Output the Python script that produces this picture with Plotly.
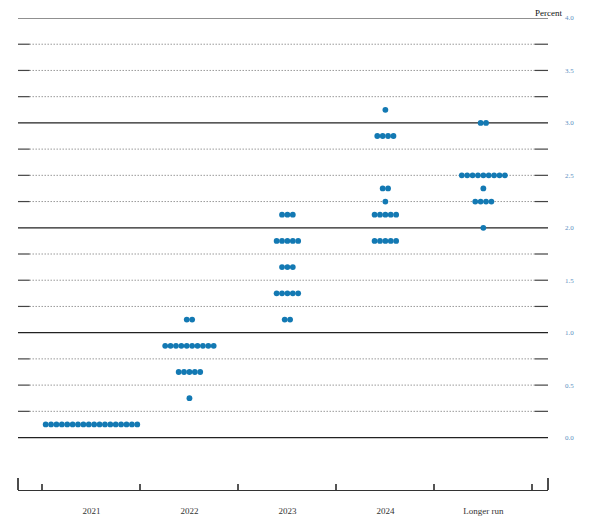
import plotly.graph_objects as go

categories = ["2021", "2022", "2023", "2024", "Longer run"]

# each list: (rate level, number of participants)
dots_2021 = [(0.125, 18)]
dots_2022 = [(0.375, 1), (0.625, 5), (0.875, 10), (1.125, 2)]
dots_2023 = [(1.125, 2), (1.375, 5), (1.625, 3), (1.875, 5), (2.125, 3)]
dots_2024 = [(1.875, 5), (2.125, 5), (2.25, 1), (2.375, 2), (2.875, 4), (3.125, 1)]
dots_longer = [(2.0, 1), (2.25, 4), (2.375, 1), (2.5, 9), (3.0, 2)]

all_dots = [dots_2021, dots_2022, dots_2023, dots_2024, dots_longer]

DOT_COLOR = "#1379b3"
LABEL_BLUE = "#5a8fc2"
SPACING = 0.055

fig = go.Figure()

xs, ys = [], []
for i, groups in enumerate(all_dots):
    for level, n in groups:
        for k in range(n):
            xs.append(i + (k - (n - 1) / 2) * SPACING)
            ys.append(level)

fig.add_trace(go.Scatter(
    x=xs, y=ys, mode="markers",
    marker=dict(color=DOT_COLOR, size=5.8, line=dict(width=0)),
    hoverinfo="y", showlegend=False,
))

# horizontal lines every 0.25: solid at integers, dotted in between,
# with short solid stubs at both ends
shapes = []
for j in range(17):
    lvl = j * 0.25
    if j % 4 == 0:
        shapes.append(dict(type="line", xref="paper", yref="y", x0=0, x1=1, y0=lvl, y1=lvl,
                           line=dict(color="#222222", width=1.2), layer="below"))
    else:
        shapes.append(dict(type="line", xref="paper", yref="y", x0=0.022, x1=0.975, y0=lvl, y1=lvl,
                           line=dict(color="#666666", width=1, dash="1px,2px"), layer="below"))
        for a, b in [(0, 0.022), (0.975, 1)]:
            shapes.append(dict(type="line", xref="paper", yref="y", x0=a, x1=b, y0=lvl, y1=lvl,
                               line=dict(color="#444444", width=1.2), layer="below"))

# tall end ticks of the bottom axis
for px in [0, 1]:
    shapes.append(dict(type="line", xref="paper", yref="y", x0=px, x1=px, y0=-0.5, y1=-0.385,
                       line=dict(color="#111111", width=1.5)))

fig.update_layout(
    width=583, height=521,
    margin=dict(l=10, r=43, t=10, b=39),
    plot_bgcolor="white", paper_bgcolor="white",
    font=dict(family="Liberation Serif", size=9, color="#333333"),
    shapes=shapes,
    xaxis=dict(
        range=[-0.75, 4.66],
        tickvals=list(range(len(categories))),
        ticktext=categories,
        ticks="", showgrid=False, zeroline=False,
        showline=True, linecolor="#333333", linewidth=1.2,
        ticklabelstandoff=12,
        tickfont=dict(family="Liberation Serif", size=9, color="#333333"),
        minor=dict(tick0=-0.5, dtick=1, ticks="inside", ticklen=6,
                   tickcolor="#555555", tickwidth=1.5, showgrid=False),
        automargin=False,
        fixedrange=True,
    ),
    yaxis=dict(
        range=[-0.5, 4.0],
        side="right",
        tickvals=[0, 0.5, 1, 1.5, 2, 2.5, 3, 3.5, 4],
        tickformat=".1f",
        ticks="", showgrid=False, zeroline=False, showline=False,
        ticklabelstandoff=16,
        tickfont=dict(family="Liberation Serif", size=7, color=LABEL_BLUE),
        automargin=False,
        fixedrange=True,
    ),
    annotations=[dict(
        text="Percent", xref="paper", yref="paper", x=1.0, y=1.0,
        xanchor="left", yanchor="bottom", showarrow=False, yshift=-1.5, xshift=-14,
        borderpad=0,
        font=dict(family="Liberation Serif", size=9, color="#111111"),
    )],
)

fig.write_html("out.html")
